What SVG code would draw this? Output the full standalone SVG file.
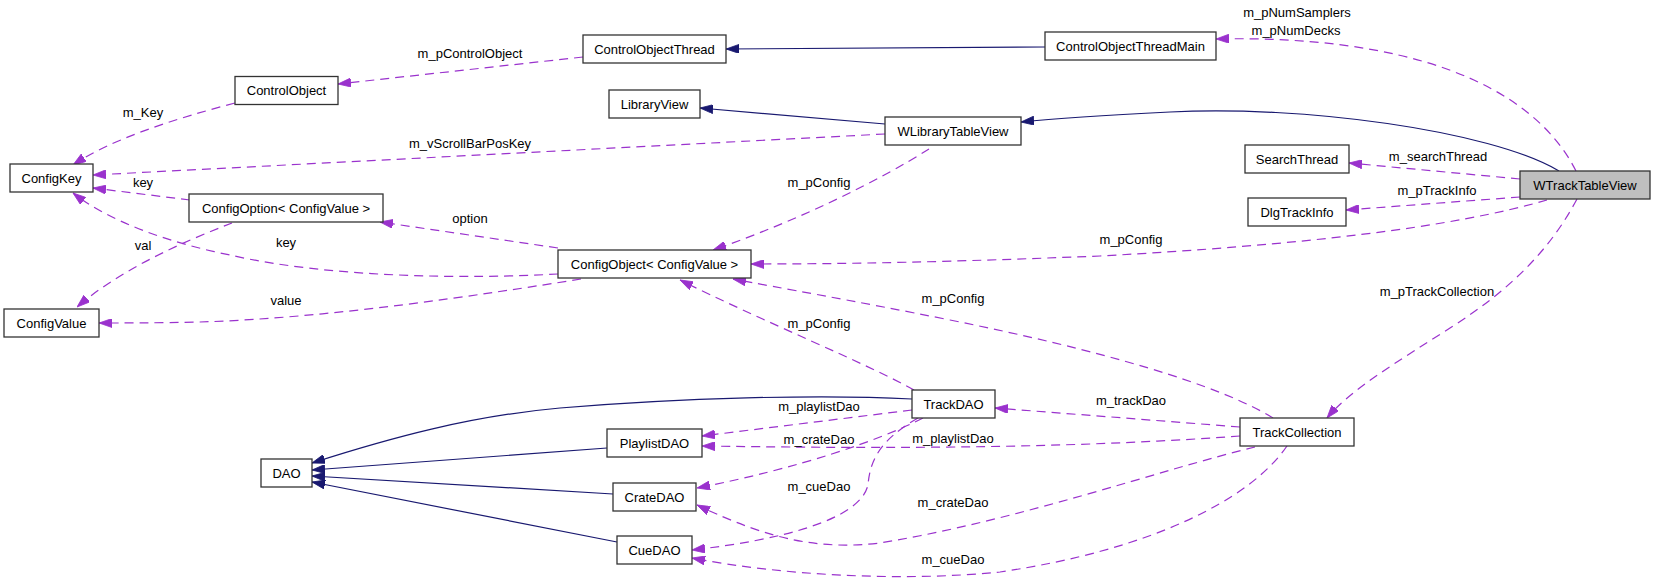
<svg xmlns="http://www.w3.org/2000/svg" width="1656" height="582" viewBox="0 0 1656 582">
<style>
.node rect{fill:#ffffff;stroke:#333333;stroke-width:1.3}
.node.focus rect{fill:#bfbfbf}
text{font-family:"Liberation Sans",Arial,Helvetica,sans-serif;font-size:13px;fill:#000000}
.node text{text-anchor:middle}
.lbl{text-anchor:middle}
.use{fill:none;stroke:#9a32cd;stroke-width:1.2;stroke-dasharray:9,6;marker-end:url(#ap)}
.inh{fill:none;stroke:#191970;stroke-width:1.2;marker-end:url(#an)}
</style>
<defs>
<marker id="ap" viewBox="0 0 13 9" refX="13" refY="4.5" markerWidth="13" markerHeight="9" markerUnits="userSpaceOnUse" orient="auto"><path d="M0,0 L13,4.5 L0,9 z" fill="#9a32cd" stroke="#9a32cd" stroke-width="0.8"/></marker>
<marker id="an" viewBox="0 0 13 9" refX="13" refY="4.5" markerWidth="13" markerHeight="9" markerUnits="userSpaceOnUse" orient="auto"><path d="M0,0 L13,4.5 L0,9 z" fill="#191970" stroke="#191970" stroke-width="0.8"/></marker>
</defs>
<rect width="1656" height="582" fill="#ffffff"/>
<g id="edges">
<path class="use" d="M583,57 L338,84"/>
<path class="inh" d="M1045,47 L726,49"/>
<path class="use" d="M1576,171 C1530,80 1400,35 1216,39"/>
<path class="inh" d="M1559,171 C1490,130 1300,105 1170,112 C1110,115 1060,118 1021,122"/>
<path class="inh" d="M885,124 L700,108"/>
<path class="use" d="M885,134 L93,175"/>
<path class="use" d="M235,103 C170,120 110,140 73,165"/>
<path class="use" d="M190,200 L93,188"/>
<path class="use" d="M232,223 C180,243 120,270 77,307"/>
<path class="use" d="M558,274 C470,279 330,278 230,255 C170,243 110,222 73,193"/>
<path class="use" d="M581,279 C480,295 330,318 200,322 C160,323 120,323 99,323"/>
<path class="use" d="M558,248 L380,222"/>
<path class="use" d="M929,149 C880,180 800,220 713,250"/>
<path class="use" d="M1547,200 C1450,228 1300,245 1100,256 C950,262 850,264 751,264"/>
<path class="use" d="M1520,179 L1349,163"/>
<path class="use" d="M1520,197 L1346,210"/>
<path class="use" d="M1577,199 C1550,250 1510,290 1450,328 C1400,360 1350,390 1327,418"/>
<path class="use" d="M1240,427 L995,408"/>
<path class="use" d="M1273,418 C1220,385 1100,350 950,320 C850,300 780,288 733,279"/>
<path class="use" d="M914,390 C870,365 760,320 680,280"/>
<path class="inh" d="M912,399 C820,394 680,398 560,408 C470,416 390,438 312,463"/>
<path class="inh" d="M607,448 L312,470"/>
<path class="inh" d="M613,494 L312,476"/>
<path class="inh" d="M617,542 L312,482"/>
<path class="use" d="M912,410 L702,436"/>
<path class="use" d="M1240,436 C1050,450 850,448 702,446"/>
<path class="use" d="M923,418 C880,440 800,468 697,488"/>
<path class="use" d="M918,418 C880,440 870,460 868,485 C860,520 780,540 692,550"/>
<path class="use" d="M1255,447 C1160,470 1020,520 880,543 C820,550 770,540 697,505"/>
<path class="use" d="M1287,446 C1250,500 1150,550 1000,572 C900,582 780,575 692,558"/>
<g id="edge-labels">
<text class="lbl" x="470" y="58">m_pControlObject</text>
<text class="lbl" x="1297" y="17">m_pNumSamplers</text>
<text class="lbl" x="1296" y="35">m_pNumDecks</text>
<text class="lbl" x="143" y="117">m_Key</text>
<text class="lbl" x="470" y="148">m_vScrollBarPosKey</text>
<text class="lbl" x="143" y="187">key</text>
<text class="lbl" x="470" y="223">option</text>
<text class="lbl" x="286" y="247">key</text>
<text class="lbl" x="143" y="250">val</text>
<text class="lbl" x="286" y="305">value</text>
<text class="lbl" x="819" y="187">m_pConfig</text>
<text class="lbl" x="1131" y="244">m_pConfig</text>
<text class="lbl" x="953" y="303">m_pConfig</text>
<text class="lbl" x="819" y="328">m_pConfig</text>
<text class="lbl" x="1438" y="161">m_searchThread</text>
<text class="lbl" x="1437" y="195">m_pTrackInfo</text>
<text class="lbl" x="1437" y="296">m_pTrackCollection</text>
<text class="lbl" x="1131" y="405">m_trackDao</text>
<text class="lbl" x="819" y="411">m_playlistDao</text>
<text class="lbl" x="953" y="443">m_playlistDao</text>
<text class="lbl" x="819" y="444">m_crateDao</text>
<text class="lbl" x="819" y="491">m_cueDao</text>
<text class="lbl" x="953" y="507">m_crateDao</text>
<text class="lbl" x="953" y="564">m_cueDao</text>
</g>
</g>
<g id="node-WTrackTableView" class="node focus"><rect x="1520" y="171" width="130" height="28"/><text x="1585" y="189.5">WTrackTableView</text></g>
<g id="node-ControlObjectThreadMain" class="node"><rect x="1045" y="32" width="171" height="28"/><text x="1130.5" y="50.5">ControlObjectThreadMain</text></g>
<g id="node-ControlObjectThread" class="node"><rect x="583" y="35" width="143" height="28"/><text x="654.5" y="53.5">ControlObjectThread</text></g>
<g id="node-ControlObject" class="node"><rect x="235" y="76.5" width="103" height="28"/><text x="286.5" y="95">ControlObject</text></g>
<g id="node-LibraryView" class="node"><rect x="609" y="90" width="91" height="28"/><text x="654.5" y="108.5">LibraryView</text></g>
<g id="node-WLibraryTableView" class="node"><rect x="885" y="117" width="136" height="28"/><text x="953" y="135.5">WLibraryTableView</text></g>
<g id="node-ConfigKey" class="node"><rect x="10" y="164" width="83" height="28"/><text x="51.5" y="182.5">ConfigKey</text></g>
<g id="node-ConfigOption" class="node"><rect x="189" y="194" width="194" height="28"/><text x="286" y="212.5">ConfigOption&lt; ConfigValue &gt;</text></g>
<g id="node-ConfigValue" class="node"><rect x="4" y="309" width="95" height="28"/><text x="51.5" y="327.5">ConfigValue</text></g>
<g id="node-ConfigObject" class="node"><rect x="558" y="250" width="193" height="28"/><text x="654.5" y="268.5">ConfigObject&lt; ConfigValue &gt;</text></g>
<g id="node-SearchThread" class="node"><rect x="1245" y="145" width="104" height="28"/><text x="1297" y="163.5">SearchThread</text></g>
<g id="node-DlgTrackInfo" class="node"><rect x="1248" y="198" width="98" height="28"/><text x="1297" y="216.5">DlgTrackInfo</text></g>
<g id="node-TrackCollection" class="node"><rect x="1240" y="418" width="114" height="28"/><text x="1297" y="436.5">TrackCollection</text></g>
<g id="node-TrackDAO" class="node"><rect x="912" y="390" width="83" height="28"/><text x="953.5" y="408.5">TrackDAO</text></g>
<g id="node-PlaylistDAO" class="node"><rect x="607" y="429" width="95" height="28"/><text x="654.5" y="447.5">PlaylistDAO</text></g>
<g id="node-CrateDAO" class="node"><rect x="613" y="483" width="83" height="28"/><text x="654.5" y="501.5">CrateDAO</text></g>
<g id="node-CueDAO" class="node"><rect x="617" y="536" width="75" height="28"/><text x="654.5" y="554.5">CueDAO</text></g>
<g id="node-DAO" class="node"><rect x="261" y="459" width="51" height="28"/><text x="286.5" y="477.5">DAO</text></g>
</svg>
